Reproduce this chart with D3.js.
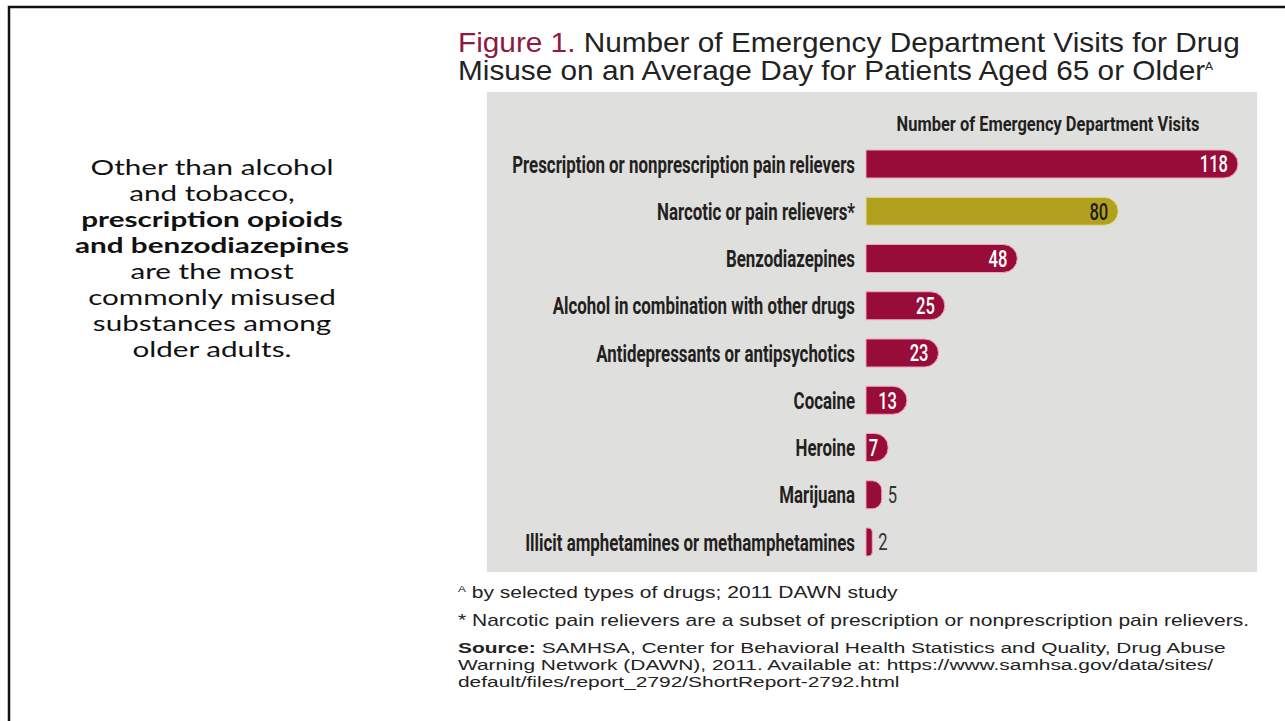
<!DOCTYPE html>
<html>
<head>
<meta charset="utf-8">
<script src="https://d3js.org/d3.v7.min.js"></script>
<style>
  body { margin: 0; background: #ffffff; }
  svg { display: block; }
</style>
</head>
<body>
<div id="chart"></div>
<script>
// data
var drugs = [
  "Prescription or nonprescription pain relievers",
  "Narcotic or pain relievers*",
  "Benzodiazepines",
  "Alcohol in combination with other drugs",
  "Antidepressants or antipsychotics",
  "Cocaine",
  "Heroine",
  "Marijuana",
  "Illicit amphetamines or methamphetamines"
];
var visits = [118, 80, 48, 25, 23, 13, 7, 5, 2];
var highlight = [false, true, false, false, false, false, false, false, false];

var titleLines = [
  "Number of Emergency Department Visits for Drug",
  "Misuse on an Average Day for Patients Aged 65 or Older"
];
var noteLines = [
  "by selected types of drugs; 2011 DAWN study",
  "* Narcotic pain relievers are a subset of prescription or nonprescription pain relievers."
];
var sourceLines = [
  "SAMHSA, Center for Behavioral Health Statistics and Quality, Drug Abuse",
  "Warning Network (DAWN), 2011. Available at: https://www.samhsa.gov/data/sites/",
  "default/files/report_2792/ShortReport-2792.html"
];
var sideLines = [
  {t: "Other than alcohol", b: false},
  {t: "and tobacco,", b: false},
  {t: "prescription opioids", b: true},
  {t: "and benzodiazepines", b: true},
  {t: "are the most", b: false},
  {t: "commonly misused", b: false},
  {t: "substances among", b: false},
  {t: "older adults.", b: false}
];

var W = 1285, H = 721;
var svg = d3.select("#chart").append("svg").attr("width", W).attr("height", H);

// slide frame (left + top edge)
svg.append("path")
  .attr("d", "M9,721 V7 H1285")
  .attr("fill", "none").attr("stroke", "#111").attr("stroke-width", 2.5);

// side text, stretched a little like the slide
var sideG = svg.append("g");
var side = sideG.append("text")
  .attr("text-anchor", "middle")
  .style("font-family", "Lato, 'Open Sans', sans-serif")
  .style("font-size", "21.5px")
  .attr("fill", "#111");
sideLines.forEach(function(l, i) {
  side.append("tspan")
    .attr("x", 0).attr("y", 175 + i * 26)
    .style("font-weight", l.b ? "bold" : "normal")
    .text(l.t);
});
var firstW = side.select("tspan").node().getComputedTextLength();
sideG.attr("transform", "translate(212,0) scale(" + (243 / firstW) + ",1)");

// title
var titleFont = "'Liberation Sans', Arial, sans-serif";
var title = svg.append("g").attr("transform", "translate(458,0)");
var t1 = title.append("text").attr("y", 52)
  .style("font-family", titleFont).style("font-size", "27px").attr("fill", "#222");
t1.append("tspan").attr("fill", "#8c1a42").text("Figure 1. ");
t1.append("tspan").text(titleLines[0]);
var t2 = title.append("text").attr("y", 80)
  .style("font-family", titleFont).style("font-size", "27px").attr("fill", "#222");
t2.append("tspan").text(titleLines[1]);
t2.append("tspan").attr("dy", -10).style("font-size", "11px").text("A");
// squeeze title lines to the figure width
var tScale = 782 / t1.node().getComputedTextLength();
t1.attr("transform", "scale(" + tScale + ",1)");
t2.attr("transform", "scale(" + tScale + ",1)");

// grey panel
svg.append("rect")
  .attr("x", 487).attr("y", 92).attr("width", 770).attr("height", 480)
  .attr("fill", "#dfdfdd");

var xs = d3.scaleLinear().domain([0, 118]).range([866, 1238]);
var ys = d3.scalePoint().domain(drugs).range([164, 542]);
var barH = 28;

var condensed = "Roboto, 'DejaVu Sans', sans-serif";

// column header
var head = svg.append("g").attr("transform", "translate(1048,131)");
var headText = head.append("text")
  .attr("text-anchor", "middle")
  .style("font-family", condensed).style("font-weight", "bold").style("font-size", "21px")
  .attr("fill", "#231f20")
  .text("Number of Emergency Department Visits");
var hw = headText.node().getComputedTextLength();
headText.attr("transform", "scale(" + (303 / hw) + ",1)");

var rows = svg.selectAll("g.row").data(drugs).enter().append("g")
  .attr("class", "row")
  .attr("transform", function(d) { return "translate(0," + ys(d) + ")"; });

// category labels
var labels = rows.append("text")
  .attr("text-anchor", "end")
  .attr("dy", "0.36em")
  .style("font-family", condensed).style("font-weight", "bold").style("font-size", "24px")
  .attr("fill", "#231f20")
  .text(function(d) { return d; });
var lw = labels.nodes()[0].getComputedTextLength();
var sx = 343 / lw;
labels.attr("transform", "translate(855,0) scale(" + sx + ",1)");

// bars with rounded right end
function barPath(v) {
  var x0 = xs(0), x1 = xs(v), w = x1 - x0;
  var r = Math.min(barH / 2, w * 0.6);
  var y0 = -barH / 2, y1 = barH / 2;
  return "M" + x0 + "," + y0 + "H" + (x1 - r) +
    "A" + r + "," + r + " 0 0 1 " + x1 + "," + (y0 + r) +
    "V" + (y1 - r) +
    "A" + r + "," + r + " 0 0 1 " + (x1 - r) + "," + y1 +
    "H" + x0 + "Z";
}
rows.append("path")
  .attr("d", function(d, i) { return barPath(visits[i]); })
  .attr("fill", function(d, i) { return highlight[i] ? "#b2a11e" : "#980c3a"; })
  .attr("stroke", function(d, i) { return highlight[i] ? "#e6dc9a" : "#f0a6bb"; })
  .attr("stroke-width", 1);

// value labels
function inside(i) { return xs(visits[i]) - xs(0) > 20; }
var vals = rows.append("g")
  .attr("transform", function(d, i) {
    var x = inside(i) ? xs(visits[i]) - 10 : xs(visits[i]) + 6;
    return "translate(" + x + ",0) scale(0.72,1)";
  });
vals.append("text")
  .attr("text-anchor", function(d, i) { return inside(i) ? "end" : "start"; })
  .attr("dy", "0.36em")
  .style("font-family", condensed)
  .style("font-weight", function(d, i) { return inside(i) ? "500" : "normal"; })
  .style("font-size", "23px")
  .attr("fill", function(d, i) {
    if (!inside(i)) return "#333";
    return highlight[i] ? "#1d1d1b" : "#ffffff";
  })
  .text(function(d, i) { return visits[i]; });

// notes
var noteFont = "'Liberation Sans', Arial, sans-serif";
var notes = svg.append("g");
var n1 = notes.append("text").attr("x", 0).attr("y", 598)
  .style("font-family", noteFont).style("font-size", "16px").attr("fill", "#222");
n1.append("tspan").attr("dy", -6).style("font-size", "9px").text("A");
n1.append("tspan").attr("dy", 6).text(" " + noteLines[0]);
var n2 = notes.append("text").attr("x", 0).attr("y", 626)
  .style("font-family", noteFont).style("font-size", "16px").attr("fill", "#222")
  .text(noteLines[1]);
var nScale = 792 / n2.node().getComputedTextLength();
notes.attr("transform", "translate(458,0) scale(" + nScale + ",1)");

// source block, tighter leading
var src = svg.append("g");
var srcTexts = sourceLines.map(function(s, i) {
  var t = src.append("text").attr("x", 0).attr("y", 653 + i * 17)
    .style("font-family", noteFont).style("font-size", "15px").attr("fill", "#222");
  if (i == 0) t.append("tspan").style("font-weight", "bold").text("Source: ");
  t.append("tspan").text(s);
  return t;
});
var sScale = 768 / srcTexts[0].node().getComputedTextLength();
src.attr("transform", "translate(458,0) scale(" + sScale + ",1)");
</script>
</body>
</html>
